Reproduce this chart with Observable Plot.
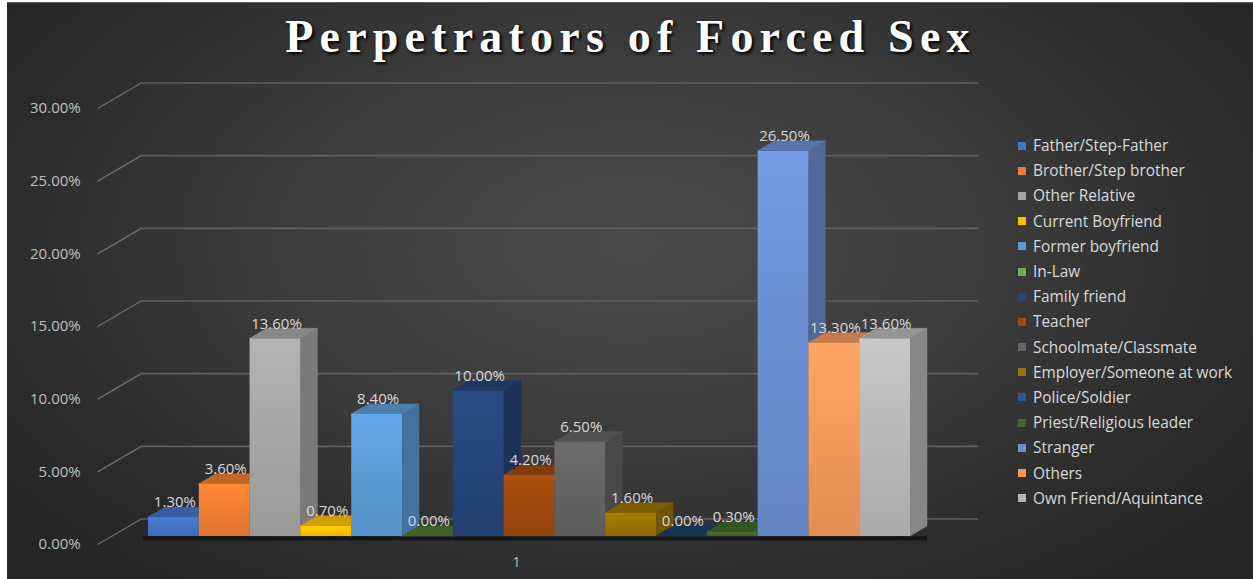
<!DOCTYPE html>
<html>
<head>
<meta charset="utf-8">
<script src="https://cdn.jsdelivr.net/npm/d3@7"></script>
<script src="https://cdn.jsdelivr.net/npm/@observablehq/plot@0.6"></script>
<style>
  html, body { margin: 0; padding: 0; background: #ffffff; }
  #wrap { position: relative; width: 1253px; height: 579px; overflow: hidden; }
  #bg { position: absolute; left: 7px; top: 2px; right: 0; bottom: 0;
        border-top: 1px solid #5e5e5e;
        background: radial-gradient(ellipse 62% 75% at 50% 42%, #4a4a4a 0%, #3c3c3c 45%, #2a2a2a 85%, #262626 100%); }
  #title { position: absolute; left: 4px; top: 14px; width: 1253px; text-align: center;
           font-family: "Liberation Serif", "Times New Roman", serif; font-weight: bold;
           font-size: 46px; line-height: 46px; letter-spacing: 6.2px; color: #ffffff;
           text-shadow: 2px 2px 3px #000000, 0 0 2px #222; }
  #chart { position: absolute; left: 0; top: 0; }
  #legend { position: absolute; left: 1018px; top: 133px; font-family: "Open Sans", sans-serif;
            font-size: 15.4px; color: #d9d9d9; }
  .item { height: 25.2px; display: flex; align-items: center; white-space: nowrap; }
  .sw { width: 8px; height: 8px; margin-right: 7px; flex: none; }
</style>
</head>
<body>
<div id="wrap">
  <div id="bg"></div>
  <div id="chart"></div>
  <div id="title">Perpetrators of Forced Sex</div>
  <div id="legend"></div>
</div>
<script>
// ---- data ----
const categories = [
  "Father/Step-Father", "Brother/Step brother", "Other Relative", "Current Boyfriend",
  "Former boyfriend", "In-Law", "Family friend", "Teacher", "Schoolmate/Classmate",
  "Employer/Someone at work", "Police/Soldier", "Priest/Religious leader", "Stranger",
  "Others", "Own Friend/Aquintance"
];
const values = [1.3, 3.6, 13.6, 0.7, 8.4, 0.0, 10.0, 4.2, 6.5, 1.6, 0.0, 0.3, 26.5, 13.3, 13.6];
const colors = [
  "#4472C4", "#ED7D31", "#A5A5A5", "#FFC000", "#5B9BD5", "#70AD47", "#264478", "#9E480E",
  "#636363", "#997300", "#255E91", "#43682B", "#698ED0", "#F1975A", "#B7B7B7"
];
const yTicks = [0, 5, 10, 15, 20, 25, 30];
const categoryLabels = ["1"];

// ---- 3D look (in scale units) ----
const DX = 0.335;   // depth of bars along x (bar widths)
const DY = 0.69;    // depth of bars along y (percentage points)
const WALL_X0 = -0.16, WALL_X1 = 16.34;   // back wall extent
const AXIS_X = -1.0;                       // front edge of floor
const WALL_RISE = 1.72;                    // back wall rise (percentage points)

const fmt = v => v.toFixed(2) + "%";

const bars = categories.map((c, i) => ({c, i, v: values[i], color: colors[i]}));
const sides = bars.flatMap(b => {
  const f = d3.color(b.color).darker(0.85).formatHex();
  return [
    {id: b.i, x: b.i + 1, y1: 0, y2: b.v, fill: f},
    {id: b.i, x: b.i + 1 + DX, y1: DY, y2: b.v + DY, fill: f}
  ];
});
const tops = bars.flatMap(b => {
  const f = d3.color(b.color).darker(b.v === 0 ? 1.6 : 0.55).formatHex();
  return [
    {id: b.i, x: b.i, y1: b.v, y2: b.v, fill: f},
    {id: b.i, x: b.i + DX, y1: b.v, y2: b.v + DY, fill: f},
    {id: b.i, x: b.i + 1, y1: b.v, y2: b.v + DY, fill: f},
    {id: b.i, x: b.i + 1 + DX, y1: b.v + DY, y2: b.v + DY, fill: f}
  ];
});

const svg = Plot.plot({
  width: 1253,
  height: 579,
  marginLeft: 148,
  marginRight: 343,
  marginTop: 100,
  marginBottom: 43,
  x: {domain: [0, 15], axis: null},
  y: {domain: [0, 30], axis: null},
  color: {type: "identity"},
  style: {background: "transparent", fontFamily: "'Open Sans', sans-serif", fontSize: "15px", overflow: "visible"},
  marks: [
    // back wall gridlines
    Plot.ruleY(yTicks, {y: d => d, x1: WALL_X0, x2: WALL_X1, dy: -17.5, stroke: "#5f5f5f", strokeWidth: 1.6}),
    // side wall diagonals
    Plot.link(yTicks, {x1: AXIS_X, y1: d => d, x2: WALL_X0, y2: d => d + WALL_RISE, dy: 8, stroke: "#707070", strokeWidth: 1.3}),
    // y tick labels
    Plot.text(yTicks, {x: AXIS_X, y: d => d, dy: 8, dx: -17, text: d => d.toFixed(2) + "%", textAnchor: "end", fill: "#bfbfbf"}),
    // floor shadow
    Plot.ruleY([0], {x1: -0.1, x2: 15 + DX, dy: 2, stroke: "#0b0b0b", strokeWidth: 4, strokeOpacity: 0.7}),
    // bar side faces
    Plot.area(sides, {x1: "x", y1: "y1", y2: "y2", z: "id", fill: "fill", stroke: "fill", strokeWidth: 0.5}),
    // bar top faces
    Plot.area(tops, {x1: "x", y1: "y1", y2: "y2", z: "id", fill: "fill", stroke: "fill", strokeWidth: 0.5}),
    // bar fronts
    Plot.rect(bars, {x1: d => d.i, x2: d => d.i + 1, y1: 0, y2: "v", fill: d => `url(#grad${d.i})`}),
    // data labels
    Plot.text(bars, {x: d => d.i + 0.5, y: "v", dx: 1, dy: -15, text: d => fmt(d.v), fill: "#d9d9d9"}),
    // category label
    Plot.text(categoryLabels, {x: 7.5, y: 0, dx: -13, dy: 26, text: d => d, fill: "#bfbfbf", fontSize: 14})
  ]
});

// gradients for bar fronts
const defs = d3.select(svg).insert("defs", ":first-child");
bars.forEach(b => {
  const g = defs.append("linearGradient").attr("id", "grad" + b.i)
    .attr("x1", 0).attr("y1", 0).attr("x2", 0).attr("y2", 1);
  g.append("stop").attr("offset", "0%").attr("stop-color", d3.color(b.color).brighter(0.25).formatHex());
  g.append("stop").attr("offset", "55%").attr("stop-color", b.color);
  g.append("stop").attr("offset", "100%").attr("stop-color", d3.color(b.color).darker(0.2).formatHex());
});

document.getElementById("chart").appendChild(svg);

// legend
const legend = document.getElementById("legend");
categories.forEach((c, i) => {
  const item = document.createElement("div");
  item.className = "item";
  const sw = document.createElement("span");
  sw.className = "sw";
  sw.style.background = colors[i];
  const t = document.createElement("span");
  t.textContent = c;
  item.appendChild(sw);
  item.appendChild(t);
  legend.appendChild(item);
});
</script>
</body>
</html>
